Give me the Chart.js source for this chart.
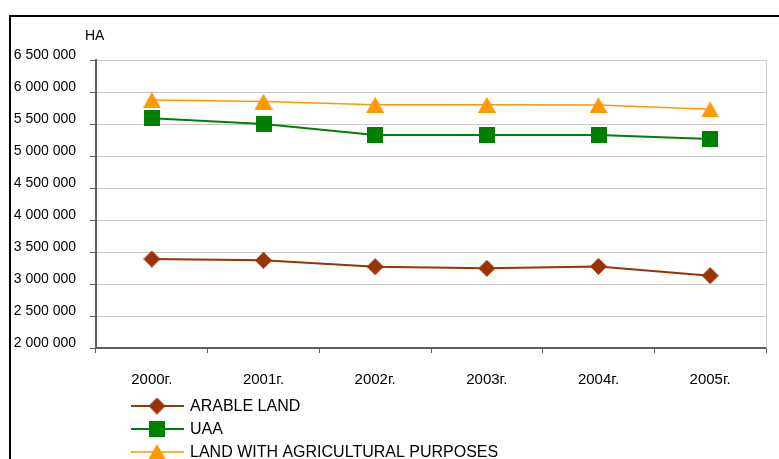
<!DOCTYPE html>
<html>
<head>
<meta charset="utf-8">
<script src="https://cdn.jsdelivr.net/npm/chart.js@4.4.1/dist/chart.umd.min.js"></script>
<style>
  html, body { margin: 0; padding: 0; background: #fff; }
  #wrap { position: relative; width: 779px; height: 459px; }
</style>
</head>
<body>
<div id="wrap"><canvas id="chart" width="779" height="459"></canvas></div>
<script>
const categories = ["2000г.", "2001г.", "2002г.", "2003г.", "2004г.", "2005г."];
const arableLand = [3390000, 3370000, 3270000, 3245000, 3275000, 3130000];
const uaa = [5590000, 5500000, 5330000, 5330000, 5330000, 5265000];
const agriLand = [5875000, 5850000, 5800000, 5800000, 5795000, 5730000];
const yMin = 2000000;
const yMax = 6500000;
const yStep = 500000;
const unitLabel = "HA";

const FONT = "'Liberation Sans Narrow', 'Arial Narrow', 'Liberation Sans', Arial, sans-serif";

// marker images, drawn centred on the point
function marker(kind, color, w, h) {
  const c = document.createElement("canvas");
  c.width = w;
  c.height = h;
  const g = c.getContext("2d");
  g.fillStyle = color;
  g.beginPath();
  if (kind === "diamond") {
    g.moveTo(w / 2, 0);
    g.lineTo(w, h / 2);
    g.lineTo(w / 2, h);
    g.lineTo(0, h / 2);
  } else if (kind === "triangle") {
    g.moveTo(w / 2, 0);
    g.lineTo(w, h);
    g.lineTo(0, h);
  } else {
    g.rect(0, 0, w, h);
  }
  g.closePath();
  g.fill();
  return c;
}

const fmt = (v) => String(v).replace(/\B(?=(\d{3})+(?!\d))/g, " ");

const frame = {
  id: "frame",
  beforeDraw(chart) {
    const ctx = chart.ctx;
    ctx.save();
    ctx.strokeStyle = "#000";
    ctx.lineWidth = 2;
    ctx.beginPath();
    ctx.moveTo(10, 459);
    ctx.lineTo(10, 16);
    ctx.lineTo(779, 16);
    ctx.stroke();
    ctx.restore();
  },
  afterDraw(chart) {
    const ctx = chart.ctx;
    const a = chart.chartArea;
    ctx.save();
    // right edge of plot area
    ctx.strokeStyle = "#d0d0d0";
    ctx.lineWidth = 1;
    ctx.beginPath();
    ctx.moveTo(a.right + 0.5, a.top);
    ctx.lineTo(a.right + 0.5, a.bottom);
    ctx.stroke();

    // unit label
    ctx.fillStyle = "#000";
    ctx.font = "14px " + FONT;
    ctx.textBaseline = "middle";
    ctx.textAlign = "left";
    ctx.fillText(unitLabel, a.left - 11, 36);

    // vertical legend
    ctx.font = "16px " + FONT;
    chart.data.datasets.forEach((ds, i) => {
      const y = 406 + i * 23;
      ctx.strokeStyle = ds.borderColor;
      ctx.lineWidth = ds.borderWidth;
      ctx.beginPath();
      ctx.moveTo(131, y);
      ctx.lineTo(184, y);
      ctx.stroke();
      const img = ds.pointStyle;
      ctx.drawImage(img, 157 - img.width / 2, y - img.height / 2);
      ctx.fillStyle = "#000";
      ctx.fillText(ds.label, 190, y + 1);
    });
    ctx.restore();
  }
};

new Chart(document.getElementById("chart"), {
  type: "line",
  data: {
    labels: categories,
    datasets: [
      {
        label: "ARABLE LAND",
        data: arableLand,
        borderColor: "#993300",
        borderWidth: 2,
        pointStyle: marker("diamond", "#993300", 17, 17)
      },
      {
        label: "UAA",
        data: uaa,
        borderColor: "#008000",
        borderWidth: 2,
        pointStyle: marker("square", "#008000", 16, 16)
      },
      {
        label: "LAND WITH AGRICULTURAL PURPOSES",
        data: agriLand,
        borderColor: "#FF9900",
        borderWidth: 1.5,
        pointStyle: marker("triangle", "#FF9900", 18, 16)
      }
    ]
  },
  options: {
    responsive: false,
    animation: false,
    layout: { padding: { top: 60, right: 13, left: 0, bottom: 0 } },
    plugins: {
      legend: { display: false },
      tooltip: { enabled: false }
    },
    scales: {
      x: {
        offset: true,
        grid: {
          offset: true,
          drawOnChartArea: false,
          drawTicks: true,
          tickLength: 5,
          tickColor: "#606060"
        },
        border: { color: "#606060", width: 2 },
        ticks: {
          color: "#000",
          padding: 18,
          maxRotation: 0,
          font: { family: FONT, size: 15 }
        },
        afterFit(scale) {
          scale.height = 111;
        }
      },
      y: {
        min: yMin,
        max: yMax,
        grid: {
          color: "#c8c8c8",
          lineWidth: 1,
          tickLength: 6,
          tickColor: "#606060"
        },
        border: { color: "#606060", width: 2 },
        ticks: {
          stepSize: yStep,
          color: "#000",
          padding: 14,
          labelOffset: -5,
          font: { family: FONT, size: 14 },
          callback: (v) => fmt(v)
        },
        afterFit(scale) {
          scale.width = 96;
        }
      }
    }
  },
  plugins: [frame]
});
</script>
</body>
</html>
